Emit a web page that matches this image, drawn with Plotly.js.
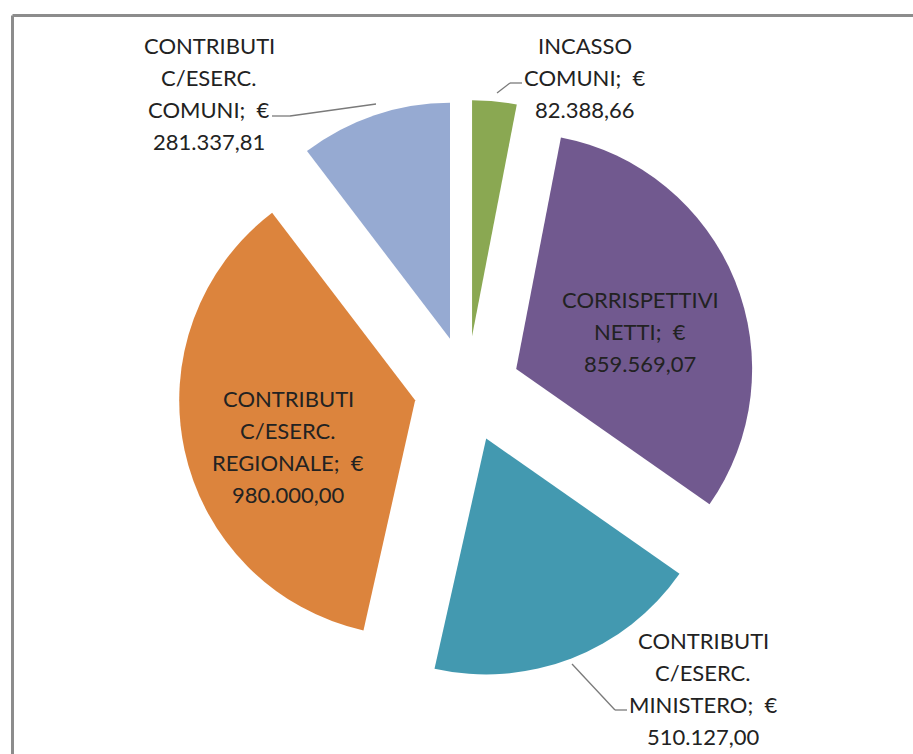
<!DOCTYPE html>
<html>
<head>
<meta charset="utf-8">
<script src="https://cdn.plot.ly/plotly-3.0.1.min.js"></script>
<style>html,body{margin:0;padding:0;background:#fff;}#chart{width:913px;height:754px;}</style>
</head>
<body>
<div id="chart"></div>
<script>
// ---- data ----
var categories = [
  'INCASSO\nCOMUNI',
  'CORRISPETTIVI\nNETTI',
  'CONTRIBUTI\nC/ESERC.\nMINISTERO',
  'CONTRIBUTI\nC/ESERC.\nREGIONALE',
  'CONTRIBUTI\nC/ESERC.\nCOMUNI'
];
var values = [82388.66, 859569.07, 510127.00, 980000.00, 281337.81];
var colors = ['#8AA852', '#71598F', '#4399B0', '#DC843D', '#96AAD2'];

// ---- layout helpers (pixel -> paper) ----
var W = 913, H = 754;
function px(x) { return x / W; }
function py(y) { return 1 - y / H; }

function fmt(v) {
  var s = v.toFixed(2).split('.');
  var intp = s[0].replace(/\B(?=(\d{3})+(?!\d))/g, '.');
  return intp + ',' + s[1];
}

// label block positions: [centre x, first line centre y] in pixels
var labelPos = [[585, 46], [640, 299], [703, 640], [288, 398], [209, 46]];
var lineStep = 32;
var textColor = '#222222';
var fontFamily = 'Lato, "Noto Sans", sans-serif';
var fontSize = 22;

var annotations = [];
categories.forEach(function (c, i) {
  var lines = c.split('\n');
  lines[lines.length - 1] += ';  €';
  lines.push(fmt(values[i]));
  lines.forEach(function (ln, k) {
    annotations.push({
      x: px(labelPos[i][0]), y: py(labelPos[i][1] + k * lineStep),
      xref: 'paper', yref: 'paper', xanchor: 'center', yanchor: 'middle',
      text: ln, showarrow: false,
      font: {family: fontFamily, size: fontSize, color: textColor}
    });
  });
});

// leader lines (pixel polylines)
var leaders = [
  [[522, 83], [510, 83], [497, 93]],
  [[272, 116], [290, 116], [376, 104]],
  [[572, 664], [615, 710], [627, 710]]
];
var shapes = [];
leaders.forEach(function (pts) {
  for (var k = 0; k < pts.length - 1; k++) {
    shapes.push({type: 'line', xref: 'paper', yref: 'paper',
      x0: px(pts[k][0]), y0: py(pts[k][1]), x1: px(pts[k + 1][0]), y1: py(pts[k + 1][1]),
      line: {color: '#7a7a7a', width: 1.3}});
  }
});
// chart frame
shapes.push({type: 'line', xref: 'paper', yref: 'paper', x0: px(12.5), y0: py(15.5), x1: px(913), y1: py(15.5), line: {color: '#8c8c8c', width: 3}});
shapes.push({type: 'line', xref: 'paper', yref: 'paper', x0: px(12.5), y0: py(15.5), x1: px(12.5), y1: py(754), line: {color: '#8c8c8c', width: 3}});

var pull = 0.225;
var trace = {
  type: 'pie',
  labels: categories.map(function (c) { return c.replace(/\n/g, ' '); }),
  values: values,
  sort: false,
  direction: 'clockwise',
  rotation: 0,
  pull: values.map(function () { return pull; }),
  marker: {colors: colors, line: {width: 0}},
  textinfo: 'none',
  hoverinfo: 'label+value',
  domain: {x: [px(178), px(756)], y: [py(678), py(100)]}
};

var layout = {
  width: W, height: H,
  margin: {l: 0, r: 0, t: 0, b: 0},
  paper_bgcolor: '#ffffff',
  showlegend: false,
  annotations: annotations,
  shapes: shapes
};

Plotly.newPlot('chart', [trace], layout, {displayModeBar: false, staticPlot: true});
</script>
</body>
</html>
